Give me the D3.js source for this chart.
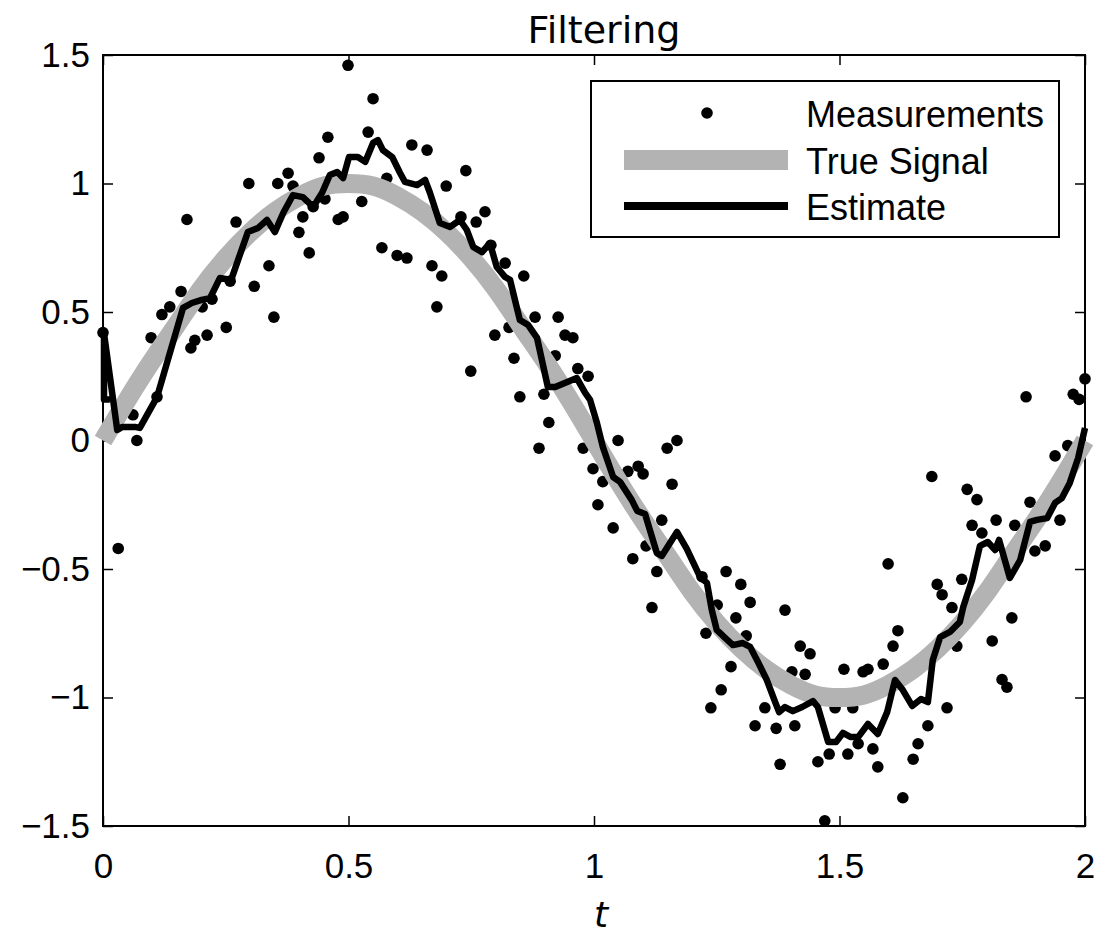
<!DOCTYPE html>
<html>
<head>
<meta charset="utf-8">
<script src="https://cdn.jsdelivr.net/npm/d3@7"></script>
<style>
  body { margin: 0; background: #fff; }
  svg { display: block; }
</style>
</head>
<body>
<div id="chart"></div>
<script>
// noisy measurements [t, y]
const measurements = [
  [0.000,0.42],[0.031,-0.42],[0.061,0.10],[0.069,0.00],[0.098,0.40],[0.110,0.17],[0.120,0.49],[0.136,0.52],[0.159,0.58],[0.171,0.86],
  [0.179,0.36],[0.187,0.39],[0.202,0.52],[0.212,0.41],[0.222,0.55],[0.251,0.44],[0.259,0.62],[0.271,0.85],[0.297,1.00],[0.308,0.60],
  [0.338,0.68],[0.348,0.48],[0.356,1.00],[0.377,1.04],[0.387,0.99],[0.399,0.81],[0.407,0.87],[0.420,0.73],[0.428,0.91],[0.440,1.10],
  [0.452,0.94],[0.458,1.18],[0.479,0.86],[0.489,0.87],[0.499,1.46],[0.527,0.93],[0.540,1.20],[0.550,1.33],[0.568,0.75],[0.578,1.02],
  [0.599,0.72],[0.619,0.71],[0.629,1.15],[0.660,1.13],[0.670,0.68],[0.680,0.52],[0.690,0.64],[0.699,0.99],[0.729,0.87],[0.739,1.05],
  [0.749,0.27],[0.760,0.85],[0.778,0.89],[0.790,0.76],[0.798,0.41],[0.819,0.69],[0.827,0.44],[0.837,0.32],[0.849,0.17],[0.857,0.64],
  [0.880,0.48],[0.888,-0.03],[0.898,0.18],[0.908,0.07],[0.921,0.33],[0.927,0.48],[0.941,0.41],[0.957,0.40],[0.967,0.28],[0.978,-0.03],
  [0.988,0.25],[0.998,-0.11],[1.008,-0.25],[1.018,-0.16],[1.039,-0.34],[1.049,0.00],[1.069,-0.12],[1.079,-0.46],[1.090,-0.10],[1.100,-0.13],
  [1.106,-0.41],[1.118,-0.65],[1.128,-0.51],[1.138,-0.31],[1.149,-0.03],[1.159,-0.17],[1.169,0.00],[1.220,-0.53],[1.228,-0.75],[1.238,-1.04],
  [1.251,-0.64],[1.259,-0.97],[1.269,-0.51],[1.279,-0.88],[1.289,-0.69],[1.299,-0.56],[1.310,-0.76],[1.318,-0.63],[1.328,-1.11],[1.348,-1.04],
  [1.371,-1.12],[1.379,-1.26],[1.389,-0.66],[1.403,-0.90],[1.409,-1.11],[1.420,-0.80],[1.430,-0.91],[1.440,-0.83],[1.456,-1.25],[1.470,-1.48],
  [1.479,-1.22],[1.491,-1.04],[1.509,-0.89],[1.517,-1.22],[1.527,-1.04],[1.538,-1.18],[1.548,-0.90],[1.558,-0.89],[1.568,-1.20],[1.578,-1.27],
  [1.589,-0.87],[1.599,-0.48],[1.609,-0.80],[1.619,-0.74],[1.629,-1.39],[1.650,-1.24],[1.660,-1.18],[1.680,-1.11],[1.688,-0.14],[1.699,-0.56],
  [1.709,-0.60],[1.719,-1.04],[1.729,-0.65],[1.739,-0.80],[1.749,-0.54],[1.760,-0.19],[1.770,-0.33],[1.780,-0.23],[1.790,-0.36],[1.811,-0.78],
  [1.819,-0.31],[1.831,-0.93],[1.841,-0.96],[1.851,-0.69],[1.857,-0.33],[1.880,0.17],[1.888,-0.24],[1.898,-0.43],[1.919,-0.41],[1.939,-0.06],
  [1.949,-0.31],[1.965,-0.02],[1.976,0.18],[1.988,0.16],[2.000,0.24]
];

// true signal, read every 0.05
const trueT = [0,0.05,0.1,0.15,0.2,0.25,0.3,0.35,0.4,0.45,0.5,0.55,0.6,0.65,0.7,0.75,0.8,0.85,0.9,0.95,1,
  1.05,1.1,1.15,1.2,1.25,1.3,1.35,1.4,1.45,1.5,1.55,1.6,1.65,1.7,1.75,1.8,1.85,1.9,1.95,2];
const trueY = [0,0.16,0.31,0.45,0.59,0.71,0.81,0.89,0.95,0.99,1.00,0.99,0.95,0.89,0.81,0.71,0.59,0.45,0.31,0.16,0,
  -0.16,-0.31,-0.45,-0.59,-0.71,-0.81,-0.89,-0.95,-0.99,-1.00,-0.99,-0.95,-0.89,-0.81,-0.71,-0.59,-0.45,-0.31,-0.16,0];

// filter estimate [t, y]
const estimate = [
  [0.014,0.160],[0.002,0.160],[0.002,0.418],[0.029,0.041],[0.039,0.053],[0.065,0.053],[0.075,0.049],[0.110,0.169],[0.163,0.516],[0.181,0.535],
  [0.201,0.547],[0.218,0.554],[0.238,0.632],[0.261,0.625],[0.275,0.702],[0.295,0.811],[0.316,0.827],[0.334,0.858],[0.350,0.811],[0.367,0.885],
  [0.387,0.955],[0.407,0.947],[0.428,0.909],[0.446,0.963],[0.462,1.033],[0.477,1.045],[0.489,1.021],[0.501,1.103],[0.519,1.103],[0.534,1.084],
  [0.550,1.158],[0.560,1.169],[0.570,1.130],[0.589,1.103],[0.605,1.041],[0.615,1.006],[0.640,0.994],[0.656,1.014],[0.666,0.963],[0.686,0.846],
  [0.707,0.831],[0.727,0.858],[0.741,0.819],[0.754,0.753],[0.772,0.733],[0.788,0.768],[0.802,0.675],[0.819,0.636],[0.829,0.625],[0.849,0.469],
  [0.866,0.449],[0.884,0.399],[0.906,0.208],[0.921,0.208],[0.965,0.243],[0.982,0.185],[0.992,0.158],[1.006,0.068],[1.018,-0.025],[1.039,-0.142],
  [1.053,-0.161],[1.077,-0.232],[1.088,-0.274],[1.104,-0.286],[1.128,-0.438],[1.138,-0.449],[1.169,-0.356],[1.189,-0.422],[1.216,-0.531],[1.230,-0.554],
  [1.240,-0.660],[1.250,-0.737],[1.267,-0.768],[1.283,-0.796],[1.303,-0.788],[1.318,-0.803],[1.334,-0.862],[1.352,-0.932],[1.369,-1.018],[1.377,-1.057],
  [1.389,-1.037],[1.405,-1.053],[1.424,-1.037],[1.446,-1.014],[1.456,-1.037],[1.477,-1.173],[1.493,-1.173],[1.507,-1.138],[1.523,-1.154],[1.538,-1.154],
  [1.558,-1.103],[1.578,-1.142],[1.597,-1.057],[1.613,-0.932],[1.629,-0.971],[1.648,-1.033],[1.666,-1.006],[1.680,-1.018],[1.690,-0.854],[1.705,-0.765],
  [1.725,-0.745],[1.745,-0.706],[1.752,-0.648],[1.770,-0.543],[1.786,-0.410],[1.802,-0.395],[1.817,-0.426],[1.825,-0.387],[1.847,-0.535],[1.868,-0.465],
  [1.888,-0.317],[1.902,-0.309],[1.923,-0.302],[1.939,-0.243],[1.953,-0.224],[1.969,-0.165],[1.986,-0.068],[2.000,0.049]
];

const xTicks = [0, 0.5, 1, 1.5, 2];
const xTickLabels = ['0', '0.5', '1', '1.5', '2'];
const yTicks = [-1.5, -1, -0.5, 0, 0.5, 1, 1.5];
const yTickLabels = ['\u22121.5', '\u22121', '\u22120.5', '0', '0.5', '1', '1.5'];
const legendLabels = ['Measurements', 'True Signal', 'Estimate'];

const W = 1095, H = 934;
const pLeft = 103, pRight = 1085, pTop = 55, pBottom = 826;
const font = '"Liberation Sans", Arial, sans-serif';

const svg = d3.select('#chart').append('svg')
  .attr('width', W)
  .attr('height', H);

const x = d3.scaleLinear().domain([0, 2]).range([pLeft, pRight]);
const y = d3.scaleLinear().domain([-1.5, 1.5]).range([pBottom, pTop]);

// axes box
svg.append('rect')
  .attr('x', pLeft).attr('y', pTop)
  .attr('width', pRight - pLeft).attr('height', pBottom - pTop)
  .attr('fill', 'none').attr('stroke', '#000').attr('stroke-width', 2);

function styleAxis(g) {
  g.select('.domain').remove();
  g.selectAll('.tick line').attr('stroke', '#000').attr('stroke-width', 1.5);
  g.selectAll('.tick text')
    .attr('fill', '#000')
    .style('font-family', font)
    .style('font-size', '35px');
}

svg.append('g')
  .attr('transform', `translate(0,${pBottom})`)
  .call(d3.axisBottom(x).tickValues(xTicks).tickFormat((d, i) => xTickLabels[i])
    .tickSizeInner(-10).tickSizeOuter(0).tickPadding(27))
  .call(styleAxis);

svg.append('g')
  .attr('transform', `translate(0,${pTop})`)
  .call(d3.axisTop(x).tickValues(xTicks).tickFormat('')
    .tickSizeInner(-10).tickSizeOuter(0))
  .call(styleAxis);

svg.append('g')
  .attr('transform', `translate(${pLeft},0)`)
  .call(d3.axisLeft(y).tickValues(yTicks).tickFormat((d, i) => yTickLabels[i])
    .tickSizeInner(-10).tickSizeOuter(0).tickPadding(13))
  .call(styleAxis);

svg.append('g')
  .attr('transform', `translate(${pRight},0)`)
  .call(d3.axisRight(y).tickValues(yTicks).tickFormat('')
    .tickSizeInner(-10).tickSizeOuter(0))
  .call(styleAxis);

// measurements
svg.append('g')
  .selectAll('circle')
  .data(measurements)
  .join('circle')
  .attr('cx', d => x(d[0]))
  .attr('cy', d => y(d[1]))
  .attr('r', 5.8)
  .attr('fill', '#000');

// true signal
const trueLine = d3.line()
  .x((d, i) => x(trueT[i]))
  .y(d => y(d))
  .curve(d3.curveNatural);

svg.append('path')
  .datum(trueY)
  .attr('d', trueLine)
  .attr('fill', 'none')
  .attr('stroke', '#b3b3b3')
  .attr('stroke-width', 19);

// estimate
const estLine = d3.line()
  .x(d => x(d[0]))
  .y(d => y(d[1]));

svg.append('path')
  .datum(estimate)
  .attr('d', estLine)
  .attr('fill', 'none')
  .attr('stroke', '#000')
  .attr('stroke-width', 6.5)
  .attr('stroke-linejoin', 'round');

// title and x label
svg.append('text')
  .attr('x', 604).attr('y', 43)
  .attr('text-anchor', 'middle')
  .style('font-family', '"DejaVu Sans", sans-serif')
  .style('font-size', '38px')
  .text('Filtering');

svg.append('text')
  .attr('x', 601).attr('y', 927)
  .attr('text-anchor', 'middle')
  .style('font-family', '"DejaVu Sans", sans-serif')
  .style('font-style', 'italic')
  .style('font-size', '36px')
  .text('t');

// legend
const legend = svg.append('g');
legend.append('rect')
  .attr('x', 591).attr('y', 81)
  .attr('width', 468).attr('height', 156)
  .attr('fill', '#fff').attr('stroke', '#000').attr('stroke-width', 2);

legend.append('circle')
  .attr('cx', 707).attr('cy', 113).attr('r', 5.8).attr('fill', '#000');
legend.append('line')
  .attr('x1', 624).attr('x2', 788).attr('y1', 160).attr('y2', 160)
  .attr('stroke', '#b3b3b3').attr('stroke-width', 20);
legend.append('line')
  .attr('x1', 624).attr('x2', 788).attr('y1', 206).attr('y2', 206)
  .attr('stroke', '#000').attr('stroke-width', 8);

legend.selectAll('text.lab')
  .data(legendLabels)
  .join('text')
  .attr('class', 'lab')
  .attr('x', 806)
  .attr('y', (d, i) => 127 + i * 46.5)
  .style('font-family', font)
  .style('font-size', '36px')
  .text(d => d);
</script>
</body>
</html>
